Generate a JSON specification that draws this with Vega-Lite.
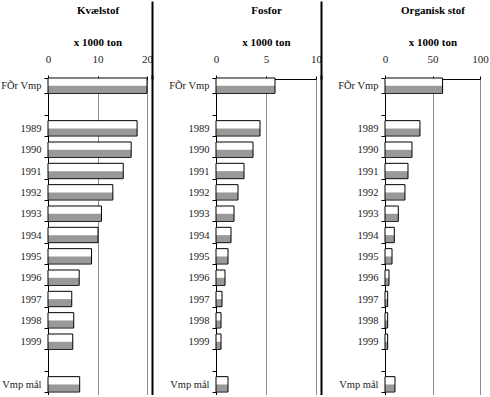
{
  "$schema": "https://vega.github.io/schema/vega-lite/v6.json",
  "padding": {"left": 0, "top": 0, "right": 0, "bottom": 0},
  "background": "white",
  "spacing": 15,
  "data": {"values": [
    {"p": "K", "c": "FÕr Vmp", "v": 20},
    {"p": "K", "c": "1989", "v": 18.0},
    {"p": "K", "c": "1990", "v": 16.8},
    {"p": "K", "c": "1991", "v": 15.2},
    {"p": "K", "c": "1992", "v": 13.1},
    {"p": "K", "c": "1993", "v": 10.8},
    {"p": "K", "c": "1994", "v": 10.1},
    {"p": "K", "c": "1995", "v": 8.8},
    {"p": "K", "c": "1996", "v": 6.3},
    {"p": "K", "c": "1997", "v": 4.8},
    {"p": "K", "c": "1998", "v": 5.2},
    {"p": "K", "c": "1999", "v": 5.0},
    {"p": "K", "c": "Vmp mål", "v": 6.4},
    {"p": "F", "c": "FÕr Vmp", "v": 5.9},
    {"p": "F", "c": "1989", "v": 4.4},
    {"p": "F", "c": "1990", "v": 3.7},
    {"p": "F", "c": "1991", "v": 2.8},
    {"p": "F", "c": "1992", "v": 2.2},
    {"p": "F", "c": "1993", "v": 1.8},
    {"p": "F", "c": "1994", "v": 1.5},
    {"p": "F", "c": "1995", "v": 1.2},
    {"p": "F", "c": "1996", "v": 0.9},
    {"p": "F", "c": "1997", "v": 0.6},
    {"p": "F", "c": "1998", "v": 0.5},
    {"p": "F", "c": "1999", "v": 0.5},
    {"p": "F", "c": "Vmp mål", "v": 1.2},
    {"p": "O", "c": "FÕr Vmp", "v": 60.6},
    {"p": "O", "c": "1989", "v": 36.8},
    {"p": "O", "c": "1990", "v": 28.4},
    {"p": "O", "c": "1991", "v": 24.2},
    {"p": "O", "c": "1992", "v": 21.0},
    {"p": "O", "c": "1993", "v": 14.0},
    {"p": "O", "c": "1994", "v": 9.8},
    {"p": "O", "c": "1995", "v": 7.4},
    {"p": "O", "c": "1996", "v": 4.2},
    {"p": "O", "c": "1997", "v": 2.8},
    {"p": "O", "c": "1998", "v": 2.8},
    {"p": "O", "c": "1999", "v": 2.8},
    {"p": "O", "c": "Vmp mål", "v": 10.5}
  ]},
  "hconcat": [
    {
      "width": 99, "height": 320,
      "transform": [{"filter": "datum.p == 'K'"}],
      "layer": [
        {"mark": {"type": "bar", "fill": "white"},
         "encoding": {
           "y": {"field": "c", "type": "nominal", "sort": null,
                 "scale": {"domain": ["FÕr Vmp", " ", "1989", "1990", "1991", "1992", "1993", "1994", "1995", "1996", "1997", "1998", "1999", "  ", "Vmp mål"], "paddingInner": 0.28, "paddingOuter": 0.14},
                 "axis": {"title": null}},
           "x": {"field": "v", "type": "quantitative", "scale": {"domain": [0, 20], "nice": false},
                 "axis": {"orient": "top", "values": [0, 10, 20], "title": ["Kvælstof\u00a0\u00a0\u00a0\u00a0\u00a0\u00a0\u00a0\u00a0\u00a0\u00a0\u00a0\u00a0\u00a0\u00a0\u00a0\u00a0\u00a0\u00a0\u00a0\u00a0\u00a0", "x 1000 ton"]}}
         }},
        {"mark": {"type": "bar", "fill": "#999999", "height": {"band": 0.45}, "yOffset": 3.6},
         "encoding": {
           "y": {"field": "c", "type": "nominal", "sort": null,
                 "axis": {"orient": "right", "offset": 5, "domain": true, "domainColor": "black", "domainWidth": 2, "ticks": false, "labels": false, "grid": false, "title": null}},
           "x": {"field": "v", "type": "quantitative",
                 "axis": {"orient": "top", "offset": -4, "values": [20], "tickSize": 78, "tickOffset": 5, "tickWidth": 2, "tickColor": "black", "labels": false, "domain": false, "grid": false, "title": null}}
         }},
        {"mark": {"type": "bar", "fillOpacity": 0, "stroke": "black", "strokeWidth": 1},
         "encoding": {
           "y": {"field": "c", "type": "nominal", "sort": null, "axis": null},
           "x": {"field": "v", "type": "quantitative", "axis": null}
         }}
      ],
      "resolve": {"axis": {"x": "independent", "y": "independent"}}
    },
    {
      "width": 100, "height": 320,
      "transform": [{"filter": "datum.p == 'F'"}],
      "layer": [
        {"mark": {"type": "bar", "fill": "white"},
         "encoding": {
           "y": {"field": "c", "type": "nominal", "sort": null,
                 "scale": {"domain": ["FÕr Vmp", " ", "1989", "1990", "1991", "1992", "1993", "1994", "1995", "1996", "1997", "1998", "1999", "  ", "Vmp mål"], "paddingInner": 0.28, "paddingOuter": 0.14},
                 "axis": {"title": null}},
           "x": {"field": "v", "type": "quantitative", "scale": {"domain": [0, 10], "nice": false},
                 "axis": {"orient": "top", "values": [0, 5, 10], "title": ["Fosfor\u00a0\u00a0\u00a0\u00a0\u00a0\u00a0\u00a0\u00a0\u00a0\u00a0\u00a0\u00a0\u00a0\u00a0\u00a0\u00a0\u00a0\u00a0\u00a0\u00a0\u00a0", "x 1000 ton"]}}
         }},
        {"mark": {"type": "bar", "fill": "#999999", "height": {"band": 0.45}, "yOffset": 3.6},
         "encoding": {
           "y": {"field": "c", "type": "nominal", "sort": null,
                 "axis": {"orient": "right", "offset": 5, "domain": true, "domainColor": "black", "domainWidth": 2, "ticks": false, "labels": false, "grid": false, "title": null}},
           "x": {"field": "v", "type": "quantitative",
                 "axis": {"orient": "top", "offset": -4, "values": [10], "tickSize": 78, "tickOffset": 5, "tickWidth": 2, "tickColor": "black", "labels": false, "domain": false, "grid": false, "title": null}}
         }},
        {"mark": {"type": "bar", "fillOpacity": 0, "stroke": "black", "strokeWidth": 1},
         "encoding": {
           "y": {"field": "c", "type": "nominal", "sort": null, "axis": null},
           "x": {"field": "v", "type": "quantitative", "axis": null}
         }}
      ],
      "resolve": {"axis": {"x": "independent", "y": "independent"}}
    },
    {
      "width": 95, "height": 320,
      "transform": [{"filter": "datum.p == 'O'"}],
      "layer": [
        {"mark": {"type": "bar", "fill": "white"},
         "encoding": {
           "y": {"field": "c", "type": "nominal", "sort": null,
                 "scale": {"domain": ["FÕr Vmp", " ", "1989", "1990", "1991", "1992", "1993", "1994", "1995", "1996", "1997", "1998", "1999", "  ", "Vmp mål"], "paddingInner": 0.28, "paddingOuter": 0.14},
                 "axis": {"title": null}},
           "x": {"field": "v", "type": "quantitative", "scale": {"domain": [0, 100], "nice": false},
                 "axis": {"orient": "top", "values": [0, 50, 100], "title": ["Organisk stof\u00a0\u00a0\u00a0\u00a0\u00a0\u00a0\u00a0\u00a0\u00a0\u00a0\u00a0\u00a0\u00a0\u00a0\u00a0\u00a0\u00a0\u00a0\u00a0\u00a0\u00a0", "x 1000 ton"]}}
         }},
        {"mark": {"type": "bar", "fill": "#999999", "height": {"band": 0.45}, "yOffset": 3.6},
         "encoding": {
           "y": {"field": "c", "type": "nominal", "sort": null, "axis": null},
           "x": {"field": "v", "type": "quantitative", "axis": null}
         }},
        {"mark": {"type": "bar", "fillOpacity": 0, "stroke": "black", "strokeWidth": 1},
         "encoding": {
           "y": {"field": "c", "type": "nominal", "sort": null, "axis": null},
           "x": {"field": "v", "type": "quantitative", "axis": null}
         }}
      ],
      "resolve": {"axis": {"x": "independent", "y": "independent"}}
    }
  ],
  "config": {
    "font": "Liberation Serif",
    "view": {"stroke": null},
    "axisX": {
      "offset": -4,
      "domainColor": "black", "tickColor": "black", "tickSize": 3,
      "labelFont": "Liberation Serif", "labelFontSize": 11, "labelColor": "#222", "labelPadding": 12, "labelFlush": false,
      "titleFont": "Liberation Serif", "titleFontSize": 11, "titleFontWeight": "bold", "titleColor": "black", "titlePadding": 6, "titleLineHeight": 32,
      "grid": true, "gridColor": "#8c8c8c", "gridWidth": 1
    },
    "axisY": {
      "domainColor": "black", "tickColor": "black", "tickSize": 4, "tickBand": "extent",
      "labelFont": "Liberation Serif", "labelFontSize": 10.5, "labelColor": "#222", "labelPadding": 3,
      "grid": false
    }
  }
}
